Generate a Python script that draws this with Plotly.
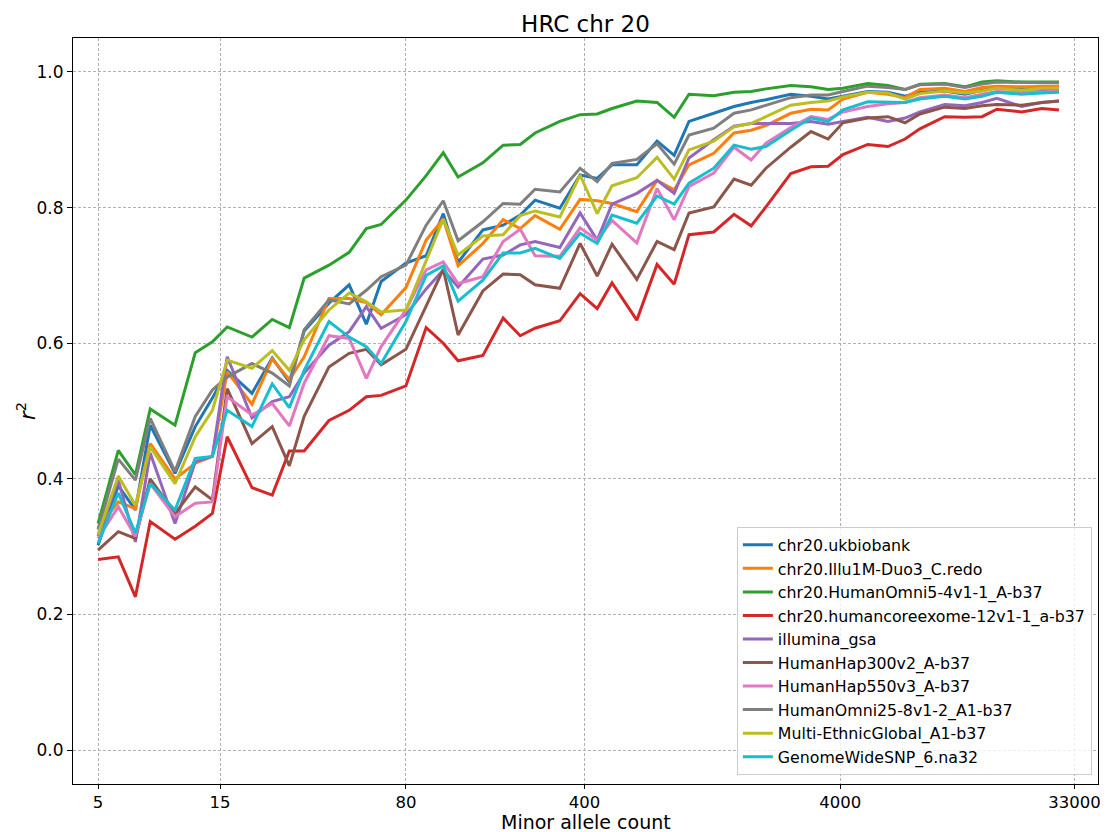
import plotly.graph_objects as go

# Minor allele count bins
mac = [5, 6, 7, 8, 10, 12, 14, 16, 20, 24, 28, 32, 40, 48, 56, 64, 80, 96, 112, 128,
       160, 192, 224, 256, 320, 384, 448, 512, 640, 768, 896, 1024, 1280, 1536, 1792, 2048,
       2560, 3072, 3584, 4096, 5120, 6144, 7168, 8192, 10240, 12288, 14336, 16384,
       20480, 24576, 28672]

ukbiobank = [0.302, 0.390, 0.354, 0.479, 0.408, 0.477, 0.519, 0.560, 0.526, 0.578,
             0.543, 0.618, 0.659, 0.686, 0.628, 0.691, 0.718, 0.729, 0.791, 0.719,
             0.767, 0.774, 0.789, 0.811, 0.799, 0.848, 0.843, 0.863, 0.863, 0.898,
             0.877, 0.927, 0.939, 0.949, 0.955, 0.959, 0.967, 0.964, 0.960, 0.964,
             0.971, 0.970, 0.964, 0.970, 0.972, 0.967, 0.973, 0.978, 0.976, 0.974, 0.975]
illu1m = [0.328, 0.366, 0.356, 0.452, 0.400, 0.423, 0.433, 0.558, 0.510, 0.577,
          0.546, 0.580, 0.666, 0.666, 0.660, 0.642, 0.682, 0.752, 0.783, 0.714,
          0.747, 0.782, 0.769, 0.788, 0.768, 0.812, 0.810, 0.806, 0.794, 0.840,
          0.826, 0.863, 0.880, 0.910, 0.914, 0.921, 0.939, 0.945, 0.944, 0.960,
          0.970, 0.967, 0.962, 0.974, 0.976, 0.971, 0.977, 0.979, 0.978, 0.978, 0.979]
omni5 = [0.334, 0.442, 0.406, 0.503, 0.479, 0.586, 0.602, 0.624, 0.609, 0.635,
         0.623, 0.696, 0.715, 0.734, 0.769, 0.775, 0.811, 0.847, 0.881, 0.845,
         0.866, 0.892, 0.893, 0.910, 0.927, 0.937, 0.938, 0.946, 0.957, 0.955,
         0.933, 0.967, 0.965, 0.970, 0.971, 0.975, 0.980, 0.978, 0.974, 0.976,
         0.983, 0.980, 0.974, 0.982, 0.983, 0.978, 0.985, 0.987, 0.985, 0.985, 0.985]
coreexome = [0.281, 0.285, 0.226, 0.337, 0.311, 0.330, 0.349, 0.462, 0.387, 0.376,
             0.441, 0.441, 0.486, 0.501, 0.521, 0.523, 0.537, 0.623, 0.600, 0.574,
             0.582, 0.637, 0.611, 0.622, 0.633, 0.673, 0.651, 0.689, 0.634, 0.716,
             0.687, 0.760, 0.764, 0.790, 0.773, 0.801, 0.850, 0.860, 0.861, 0.878,
             0.893, 0.890, 0.901, 0.916, 0.934, 0.933, 0.934, 0.945, 0.941, 0.946, 0.944]
gsa = [0.315, 0.398, 0.307, 0.438, 0.334, 0.425, 0.433, 0.580, 0.490, 0.514,
       0.521, 0.556, 0.597, 0.617, 0.654, 0.622, 0.642, 0.680, 0.708, 0.683,
       0.724, 0.730, 0.745, 0.750, 0.741, 0.792, 0.752, 0.805, 0.821, 0.840,
       0.821, 0.873, 0.900, 0.920, 0.924, 0.924, 0.924, 0.927, 0.923, 0.927,
       0.933, 0.927, 0.932, 0.941, 0.952, 0.950, 0.955, 0.961, 0.949, 0.955, 0.957]
hap300 = [0.295, 0.322, 0.312, 0.400, 0.349, 0.388, 0.369, 0.533, 0.452, 0.477,
          0.419, 0.492, 0.565, 0.585, 0.591, 0.568, 0.591, 0.654, 0.709, 0.612,
          0.677, 0.702, 0.701, 0.686, 0.681, 0.747, 0.699, 0.746, 0.694, 0.750,
          0.738, 0.792, 0.801, 0.842, 0.833, 0.858, 0.889, 0.912, 0.901, 0.925,
          0.932, 0.934, 0.925, 0.938, 0.948, 0.946, 0.950, 0.952, 0.951, 0.955, 0.957]
hap550 = [0.312, 0.359, 0.315, 0.393, 0.344, 0.364, 0.366, 0.521, 0.494, 0.511,
          0.478, 0.541, 0.611, 0.607, 0.548, 0.595, 0.649, 0.708, 0.720, 0.688,
          0.698, 0.750, 0.768, 0.729, 0.728, 0.770, 0.752, 0.781, 0.748, 0.828,
          0.782, 0.831, 0.851, 0.889, 0.870, 0.895, 0.918, 0.934, 0.930, 0.941,
          0.949, 0.953, 0.955, 0.962, 0.966, 0.962, 0.967, 0.971, 0.970, 0.971, 0.971]
omni25 = [0.325, 0.429, 0.398, 0.489, 0.411, 0.492, 0.531, 0.550, 0.570, 0.556,
          0.537, 0.620, 0.664, 0.658, 0.678, 0.698, 0.715, 0.774, 0.810, 0.751,
          0.779, 0.806, 0.805, 0.827, 0.823, 0.858, 0.838, 0.865, 0.871, 0.894,
          0.864, 0.907, 0.917, 0.939, 0.944, 0.951, 0.962, 0.966, 0.966, 0.971,
          0.979, 0.977, 0.974, 0.981, 0.982, 0.977, 0.982, 0.985, 0.984, 0.984, 0.984]
multiethnic = [0.318, 0.404, 0.361, 0.447, 0.393, 0.462, 0.501, 0.575, 0.563, 0.589,
               0.560, 0.605, 0.649, 0.674, 0.661, 0.646, 0.649, 0.722, 0.783, 0.730,
               0.758, 0.760, 0.788, 0.795, 0.786, 0.848, 0.791, 0.832, 0.844, 0.874,
               0.842, 0.885, 0.898, 0.919, 0.924, 0.934, 0.951, 0.955, 0.957, 0.963,
               0.970, 0.969, 0.960, 0.968, 0.972, 0.969, 0.972, 0.976, 0.973, 0.976, 0.976]
gwsnp6 = [0.305, 0.379, 0.320, 0.393, 0.354, 0.430, 0.433, 0.501, 0.477, 0.540,
          0.505, 0.560, 0.632, 0.609, 0.595, 0.570, 0.632, 0.700, 0.714, 0.662,
          0.693, 0.733, 0.733, 0.740, 0.725, 0.762, 0.747, 0.789, 0.777, 0.817,
          0.805, 0.836, 0.858, 0.892, 0.886, 0.890, 0.914, 0.932, 0.927, 0.944,
          0.956, 0.955, 0.955, 0.960, 0.964, 0.960, 0.964, 0.970, 0.967, 0.969, 0.970]

series_names = ["chr20.ukbiobank", "chr20.Illu1M-Duo3_C.redo", "chr20.HumanOmni5-4v1-1_A-b37",
                "chr20.humancoreexome-12v1-1_a-b37", "illumina_gsa", "HumanHap300v2_A-b37",
                "HumanHap550v3_A-b37", "HumanOmni25-8v1-2_A1-b37", "Multi-EthnicGlobal_A1-b37",
                "GenomeWideSNP_6.na32"]
series_values = [ukbiobank, illu1m, omni5, coreexome, gsa, hap300, hap550, omni25,
                 multiethnic, gwsnp6]
colors = ["#1f77b4", "#ff7f0e", "#2ca02c", "#d62728", "#9467bd", "#8c564b",
          "#e377c2", "#7f7f7f", "#bcbd22", "#17becf"]

x_tickvals = [5, 15, 80, 400, 4000, 33000]
x_ticktext = ["5", "15", "80", "400", "4000", "33000"]

fig = go.Figure()
for name, vals, col in zip(series_names, series_values, colors):
    fig.add_trace(go.Scatter(x=mac, y=vals, mode="lines", name=name,
                             line=dict(color=col, width=3)))

font_family = "DejaVu Sans"
grid = dict(showgrid=True, gridcolor="#b0b0b0", gridwidth=0.8, griddash="3px,2px")
fig.update_layout(
    width=1108, height=832,
    margin=dict(l=73, r=10, t=38, b=48),
    paper_bgcolor="white", plot_bgcolor="white",
    font=dict(family=font_family, color="black", size=17),
    title=dict(text="HRC chr 20", x=0.5, xref="paper", xanchor="center",
               y=1 - 24 / 832, yref="container", yanchor="middle",
               font=dict(size=23, family=font_family)),
    legend=dict(x=0.994, y=0.012, xanchor="right", yanchor="bottom",
                bgcolor="rgba(255,255,255,0.8)", bordercolor="#cccccc", borderwidth=1,
                font=dict(size=15.8, family=font_family), itemwidth=30,
                tracegroupgap=0),
    showlegend=True,
    annotations=[
        dict(text="Minor allele count", xref="paper", yref="paper", x=0.5, y=-37.5 / 746,
             xanchor="center", yanchor="middle", showarrow=False, borderpad=0,
             font=dict(size=19, family=font_family)),
        dict(text="<i>r</i><sup>2</sup>", xref="paper", yref="paper", x=-47 / 1025, y=0.5,
             xanchor="center", yanchor="middle", showarrow=False, textangle=-90,
             font=dict(size=21, family=font_family)),
    ],
)
fig.update_xaxes(type="log", range=[0.601, 4.61], tickvals=x_tickvals, ticktext=x_ticktext,
                 showline=True, linecolor="black", linewidth=1, mirror=True,
                 ticks="outside", ticklen=3.5, tickcolor="black", automargin=False,
                 tickfont=dict(size=16.5, family=font_family),
                 zeroline=False, **grid)
fig.update_yaxes(range=[-0.05, 1.05], tickvals=[0.0, 0.2, 0.4, 0.6, 0.8, 1.0],
                 ticktext=["0.0", "0.2", "0.4", "0.6", "0.8", "1.0"],
                 showline=True, linecolor="black", linewidth=1, mirror=True,
                 ticks="outside", ticklen=5, tickcolor="black", automargin=False,
                 zeroline=False, **grid)

fig.write_html("out.html")
